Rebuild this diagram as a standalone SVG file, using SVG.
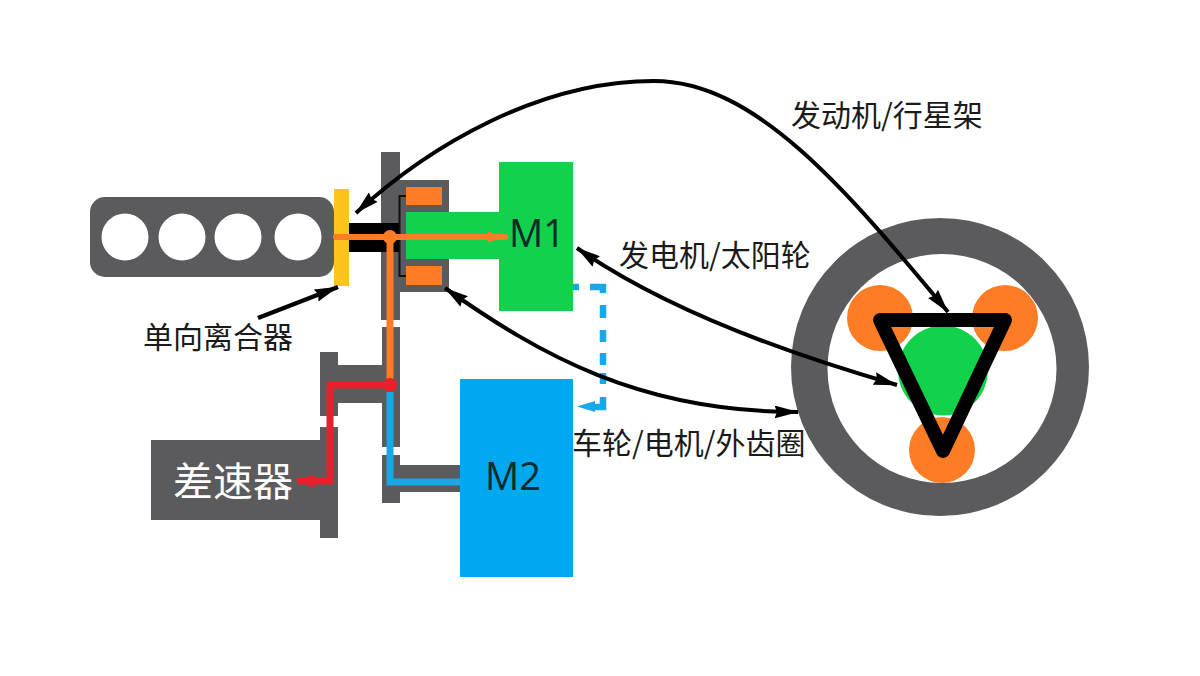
<svg xmlns="http://www.w3.org/2000/svg" width="1200" height="676" viewBox="0 0 1200 676">
<style>
.g{fill:#5b5b5d}.o{fill:#fc7d25}.gr{fill:#12d14b}.b{fill:#00a8f0}
.t{font-family:"Noto Sans CJK SC","Noto Sans",sans-serif;font-size:30px;fill:#1a1a1a}
.m{font-family:"Open Sans","Noto Sans",sans-serif;font-size:38px;fill:#0b2a2a}
.c{fill:none;stroke:#000;stroke-width:4;marker-start:url(#ah);marker-end:url(#ah)}
.d{fill:none;stroke:#19a7e8;stroke-width:6.500}
</style>
<defs>
<marker id="ah" viewBox="0 0 24 13" refX="23.500" refY="6.500" markerUnits="userSpaceOnUse" markerWidth="24" markerHeight="13" orient="auto-start-reverse"><path d="M0,0 L24,6.500 L0,13 L2.500,6.500 Z" fill="#000"/></marker>
<marker id="oa" viewBox="0 0 18 11" refX="17.500" refY="5.500" markerUnits="userSpaceOnUse" markerWidth="18" markerHeight="11" orient="auto"><path d="M0,0 L18,5.500 L0,11 Z" fill="#fc7d25"/></marker>
<marker id="ra" viewBox="0 0 18 13" refX="17" refY="6.500" markerUnits="userSpaceOnUse" markerWidth="18" markerHeight="13" orient="auto"><path d="M0,0 L18,6.500 L0,13 Z" fill="#e8202a"/></marker>
</defs>
<rect width="1200" height="676" fill="#fff"/>
<g id="engine">
<rect class="g" x="90" y="197" width="244" height="80" rx="15"/>
<circle cx="125" cy="237" r="23.500" fill="#fff"/><circle cx="182" cy="237" r="23.500" fill="#fff"/><circle cx="238" cy="237" r="23.500" fill="#fff"/><circle cx="298" cy="237" r="23.500" fill="#fff"/>
</g>
<g id="planetary-left">
<rect class="g" x="381" y="152" width="19" height="168"/>
<rect class="g" x="400" y="180" width="49" height="112"/>
<rect class="o" x="406" y="187" width="36" height="18"/>
<rect class="o" x="406" y="266" width="36" height="19"/>
<rect x="349" y="223" width="51" height="29" fill="#000"/>
<path d="M406,196 H399.500 V276 H406" fill="none" stroke="#111" stroke-width="2"/>
</g>
<g id="clutch"><rect x="334" y="189" width="15" height="97" fill="#fdc51c"/></g>
<g id="m1">
<rect class="gr" x="406" y="212" width="94" height="47"/>
<rect class="gr" x="499" y="162" width="74" height="149"/>
<text class="m" x="509" y="247">M1</text>
</g>
<g id="gear-train">
<rect class="g" x="382" y="327" width="18" height="120"/>
<path class="g" d="M382,455 H400 V465 H461 V492 H400 V503 H382 Z"/>
<path class="g" d="M320,352 H338 V365 H382 V403 H338 V416 H320 Z"/>
</g>
<g id="differential">
<path class="g" d="M320,427 H338 V538 H320 V520 H151 V440 H320 Z"/>
<text x="173" y="496" font-family="'Noto Sans CJK SC','Noto Sans',sans-serif" font-size="40" fill="#fff">差速器</text>
</g>
<g id="m2">
<rect class="b" x="460" y="379" width="113" height="198"/>
<text class="m" x="485" y="490">M2</text>
</g>
<g id="ring-gear">
<circle class="g" cx="940" cy="367" r="149"/>
<circle cx="942" cy="368.500" r="114.500" fill="#fff"/>
<circle class="o" cx="880" cy="318" r="33"/><circle class="o" cx="1005" cy="318" r="33"/><circle class="o" cx="942" cy="450" r="33"/>
<circle class="gr" cx="943" cy="370.500" r="45"/>
<path d="M880,320 H1005 L943,451 Z" fill="none" stroke="#000" stroke-width="14" stroke-linejoin="round"/>
</g>
<g id="connectors">
<path d="M336,237 H505" fill="none" stroke="#fc7d25" stroke-width="6" stroke-linecap="round" marker-end="url(#oa)"/>
<path d="M390,237 V385" fill="none" stroke="#fc7d25" stroke-width="7"/>
<circle class="o" cx="390" cy="237" r="7"/>
<path d="M390,392 V482 H460" fill="none" stroke="#19a7e8" stroke-width="7"/>
<path d="M390,385 H330 V481 H297" fill="none" stroke="#e8202a" stroke-width="7" marker-end="url(#ra)"/>
<circle cx="390" cy="385" r="7" fill="#e8202a"/>
<path class="d" d="M573,287 H579 M590,287 H603 V293 M603,305 V318 M603,330 V342 M603,353 V365 M603,373 V384 M603,397 V407 H592"/>
<path d="M577,406.500 L595,401 V412 Z" fill="#19a7e8"/>
<path class="c" d="M356,213 C430,145 540,81 654,81 C755,81 845,188 948,312"/>
<path class="c" d="M577,248 C640,292 740,340 897,385"/>
<path class="c" d="M445,288 C540,355 640,412 798,412"/>
<path d="M258,318 L338,287" fill="none" stroke="#000" stroke-width="4.500" marker-end="url(#ah)"/>
</g>
<g id="labels">
<text class="t" x="791" y="126">发动机/行星架</text>
<text class="t" x="619" y="266">发电机/太阳轮</text>
<text class="t" x="572" y="454">车轮/电机/外齿圈</text>
<text class="t" x="143" y="348">单向离合器</text>
</g>
</svg>
